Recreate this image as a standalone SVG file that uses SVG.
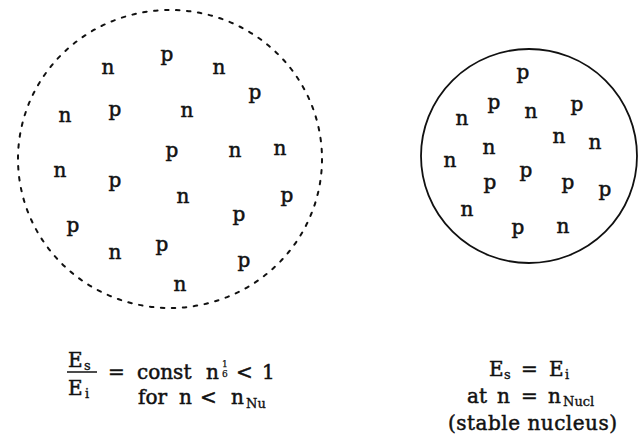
<svg xmlns="http://www.w3.org/2000/svg" width="642" height="437" viewBox="0 0 642 437">
<style>
text { font-family: "DejaVu Serif", "Liberation Serif", serif; fill: #111; stroke: #111; stroke-width: 0.5; }
.pt { font-size: 20px; text-anchor: middle; }
.t { font-size: 20px; }
.sub { font-size: 13px; stroke-width: 0.35; }
.sup { font-size: 9px; stroke-width: 0.25; }
.dash { fill: none; stroke: #111; stroke-width: 2; stroke-dasharray: 3.5 7.5; stroke-linecap: round; }
.solid { fill: none; stroke: #111; stroke-width: 1.8; }
</style>
<rect width="642" height="437" fill="#fff"/>
<g id="unstable-cluster">
<ellipse class="dash" cx="170" cy="159" rx="152" ry="149"/>
<text class="pt" x="108" y="74">n</text>
<text class="pt" x="167" y="61">p</text>
<text class="pt" x="219" y="74">n</text>
<text class="pt" x="255" y="99">p</text>
<text class="pt" x="65" y="122">n</text>
<text class="pt" x="115" y="116">p</text>
<text class="pt" x="187" y="117">n</text>
<text class="pt" x="172" y="157">p</text>
<text class="pt" x="235" y="157">n</text>
<text class="pt" x="280" y="155">n</text>
<text class="pt" x="60" y="177">n</text>
<text class="pt" x="115" y="187">p</text>
<text class="pt" x="183" y="203">n</text>
<text class="pt" x="287" y="202">p</text>
<text class="pt" x="239" y="221">p</text>
<text class="pt" x="73" y="232">p</text>
<text class="pt" x="115" y="259">n</text>
<text class="pt" x="162" y="251">p</text>
<text class="pt" x="244" y="267">p</text>
<text class="pt" x="180" y="291">n</text>
</g>
<g id="stable-nucleus">
<ellipse class="solid" cx="529" cy="156" rx="108" ry="107"/>
<text class="pt" x="523" y="79">p</text>
<text class="pt" x="494" y="109">p</text>
<text class="pt" x="462" y="125">n</text>
<text class="pt" x="531" y="118">n</text>
<text class="pt" x="577" y="111">p</text>
<text class="pt" x="559" y="143">n</text>
<text class="pt" x="595" y="149">n</text>
<text class="pt" x="489" y="154">n</text>
<text class="pt" x="450" y="167">n</text>
<text class="pt" x="526" y="177">p</text>
<text class="pt" x="490" y="189">p</text>
<text class="pt" x="568" y="189">p</text>
<text class="pt" x="605" y="196">p</text>
<text class="pt" x="467" y="216">n</text>
<text class="pt" x="518" y="234">p</text>
<text class="pt" x="563" y="233">n</text>
</g>
<g id="left-formula">
<text class="t" x="68" y="367">E</text>
<text class="sub" x="84" y="370">s</text>
<line x1="67" y1="372" x2="97" y2="372" stroke="#111" stroke-width="1.5"/>
<text class="t" x="68" y="395">E</text>
<text class="sub" x="85" y="398">i</text>
<text class="t" x="108" y="379">=</text>
<text class="t" x="137" y="379">const</text>
<text class="t" x="206" y="379">n</text>
<text class="sup" x="222" y="367">1</text>
<text class="sup" x="222" y="377">6</text>
<text class="t" x="236" y="379">&lt;</text>
<text class="t" x="262" y="379">1</text>
<text class="t" x="138" y="404">for</text>
<text class="t" x="179" y="404">n</text>
<text class="t" x="200" y="404">&lt;</text>
<text class="t" x="231" y="404">n</text>
<text class="sub" x="246" y="408">Nu</text>
</g>
<g id="right-formula">
<text class="t" x="489" y="376">E</text>
<text class="sub" x="504" y="379">s</text>
<text class="t" x="521" y="376">=</text>
<text class="t" x="549" y="376">E</text>
<text class="sub" x="565" y="379">i</text>
<text class="t" x="467" y="403">at</text>
<text class="t" x="497" y="403">n</text>
<text class="t" x="521" y="403">=</text>
<text class="t" x="548" y="403">n</text>
<text class="sub" x="563" y="406">Nucl</text>
<text class="t" x="448" y="430" textLength="169">(stable nucleus)</text>
</g>
</svg>
